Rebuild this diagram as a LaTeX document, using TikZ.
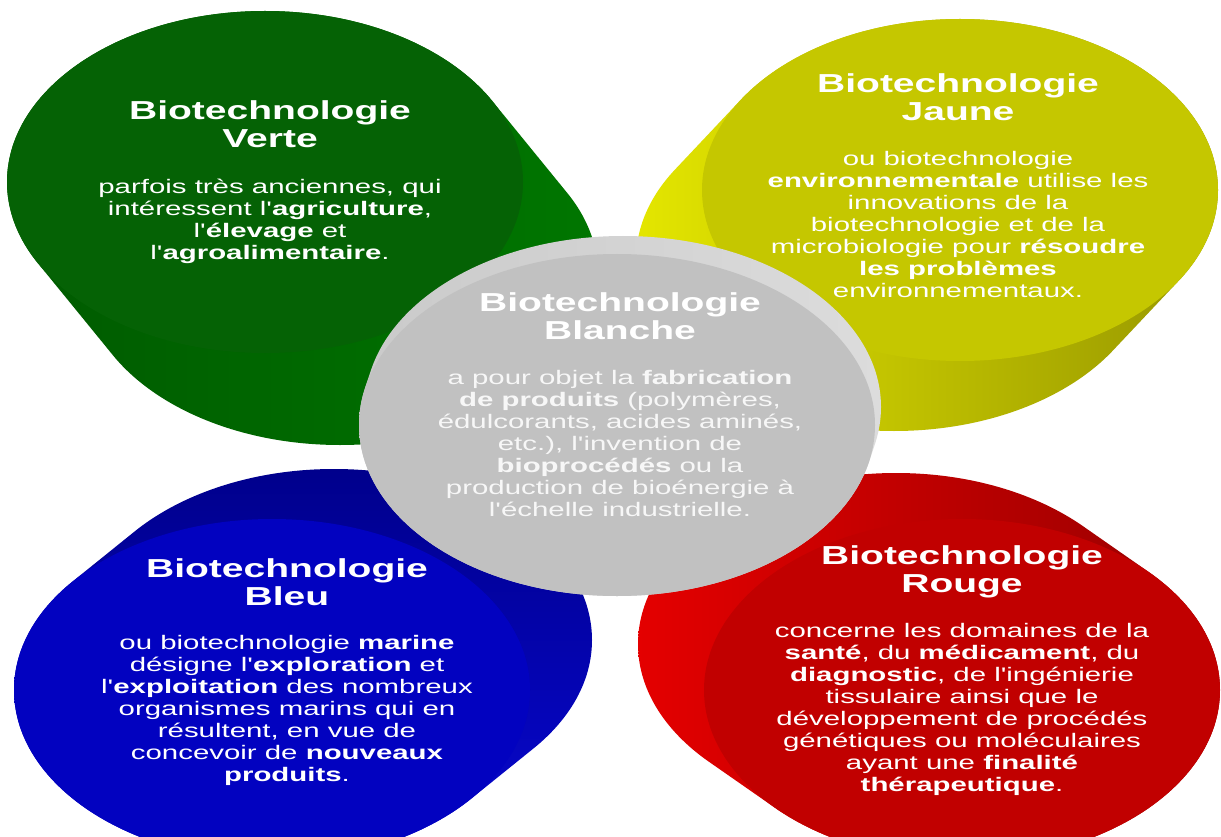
\documentclass[tikz,border=0pt]{standalone}
\usepackage{fontspec}
\setmainfont{Liberation Sans}[FakeStretch=1.5, Ligatures=TeXOff]
\usetikzlibrary{positioning}

% disc colours: face, then the two ends of the side shading
\definecolor{vertface}{RGB}{5,98,5}
\definecolor{vertsideA}{RGB}{0,90,0}
\definecolor{vertsideB}{RGB}{0,118,0}
\definecolor{jauneface}{RGB}{197,199,0}
\definecolor{jaunesideA}{RGB}{228,230,0}
\definecolor{jaunesideB}{RGB}{150,150,0}
\definecolor{bleuface}{RGB}{2,2,192}
\definecolor{bleusideA}{RGB}{0,0,140}
\definecolor{bleusideB}{RGB}{8,8,210}
\definecolor{rougeface}{RGB}{193,0,0}
\definecolor{rougesideA}{RGB}{228,0,0}
\definecolor{rougesideB}{RGB}{150,0,0}
\definecolor{blancface}{RGB}{193,193,193}
\definecolor{blancsideA}{RGB}{202,202,202}
\definecolor{blancsideM}{RGB}{148,148,148}
\definecolor{blancsideB}{RGB}{220,220,220}

\tikzset{
    title/.style={font=\bfseries\fontsize{26}{28}\selectfont, text=white,
        align=center, inner sep=0pt, anchor=north},
    body/.style={font=\fontsize{19.6}{22}\selectfont, text=white,
        align=center, inner sep=0pt},
}

% #1,#2 centre of the face, #3,#4 depth of the disc, #5 side shading, #6 face colour
\newcommand{\bioDisc}[6]{%
    \shade[#5] foreach \k in {0,...,24}
        {({#1+\k*(#3)/24}, {#2+\k*(#4)/24}) ellipse [x radius=258, y radius=171]};
    \fill[#6] (#1,#2) ellipse [x radius=258, y radius=171];
}

\begin{document}
\begin{tikzpicture}[x=1pt, y=-1pt]

    \useasboundingbox[fill=white] (0,0) rectangle (1221,837);

    % --- Discs (back to front) ---
    \bioDisc{265}{182}{75}{92}{left color=vertsideA, right color=vertsideB}{vertface}
    \bioDisc{960}{190}{-66}{70}{left color=jaunesideA, right color=jaunesideB}{jauneface}
    \bioDisc{272}{690}{62}{-50}{top color=bleusideA, bottom color=bleusideB}{bleuface}
    \bioDisc{962}{690}{-66}{-46}{left color=rougesideA, right color=rougesideB}{rougeface}
    \bioDisc{617}{425}{6}{-18}{left color=blancsideA, middle color=blancsideM,
        right color=blancsideB}{blancface}

    % --- Verte ---
    \node[title] (verteT) at (270,100) {Biotechnologie\\Verte};
    \node[body, below=31pt of verteT] (verteB) {parfois très anciennes, qui\\
        intéressent l'\textbf{agriculture},\\
        l'\textbf{élevage} et\\
        l'\textbf{agroalimentaire}.};

    % --- Jaune ---
    \node[title] (jauneT) at (958,73) {Biotechnologie\\Jaune};
    \node[body, below=31pt of jauneT] (jauneB) {ou biotechnologie\\
        \textbf{environnementale} utilise les\\
        innovations de la\\
        biotechnologie et de la\\
        microbiologie pour \textbf{résoudre}\\
        \textbf{les problèmes}\\
        environnementaux.};

    % --- Bleu ---
    \node[title] (bleuT) at (287,558) {Biotechnologie\\Bleu};
    \node[body, below=30pt of bleuT] (bleuB) {ou biotechnologie \textbf{marine}\\
        désigne l'\textbf{exploration} et\\
        l'\textbf{exploitation} des nombreux\\
        organismes marins qui en\\
        résultent, en vue de\\
        concevoir de \textbf{nouveaux}\\
        \textbf{produits}.};

    % --- Rouge ---
    \node[title] (rougeT) at (962,545) {Biotechnologie\\Rouge};
    \node[body, below=25pt of rougeT] (rougeB) {concerne les domaines de la\\
        \textbf{santé}, du \textbf{médicament}, du\\
        \textbf{diagnostic}, de l'ingénierie\\
        tissulaire ainsi que le\\
        développement de procédés\\
        génétiques ou moléculaires\\
        ayant une \textbf{finalité}\\
        \textbf{thérapeutique}.};

    % --- Blanche ---
    \node[title] (blancT) at (620,292) {Biotechnologie\\Blanche};
    \node[body, text=white!94!gray, below=31pt of blancT] (blancB)
        {a pour objet la \textbf{fabrication}\\
        \textbf{de produits} (polymères,\\
        édulcorants, acides aminés,\\
        etc.), l'invention de\\
        \textbf{bioprocédés} ou la\\
        production de bioénergie à\\
        l'échelle industrielle.};

\end{tikzpicture}
\end{document}
